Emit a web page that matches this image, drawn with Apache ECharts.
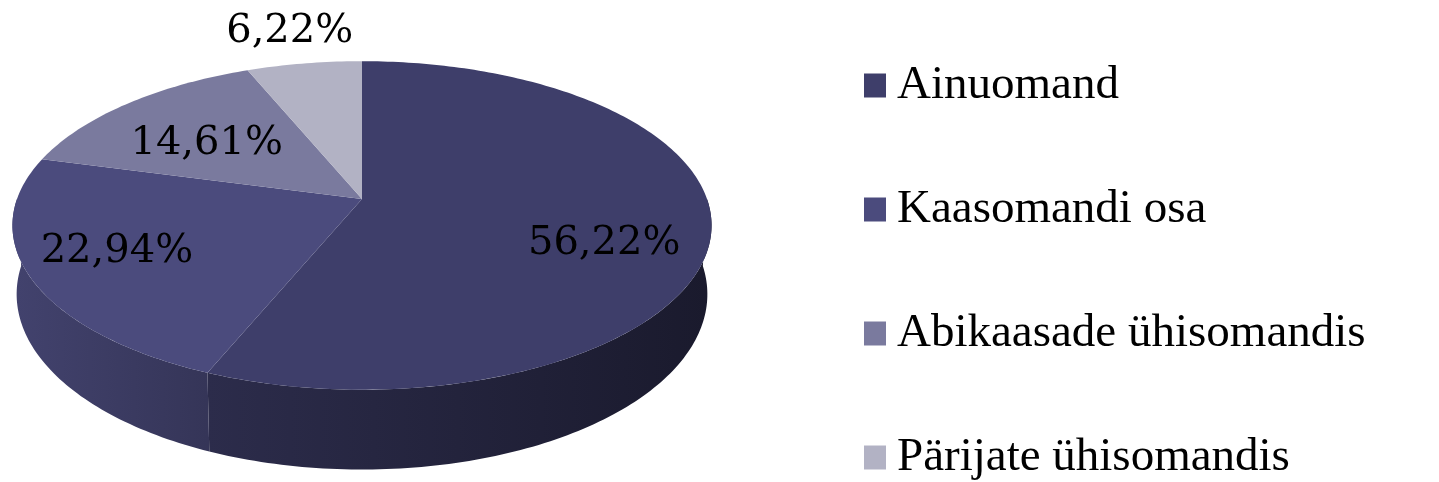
<!DOCTYPE html>
<html>
<head>
<meta charset="utf-8">
<script src="https://cdn.jsdelivr.net/npm/echarts@6/dist/echarts.min.js"></script>
<style>
  html, body { margin: 0; padding: 0; background: #fff; }
  #chart { width: 1439px; height: 482px; }
</style>
</head>
<body>
<div id="chart"></div>
<script>
var categories = ['Ainuomand', 'Kaasomandi osa', 'Abikaasade ühisomandis', 'Pärijate ühisomandis'];
var shares = [56.22, 22.94, 14.61, 6.22];
var labels = ['56,22%', '22,94%', '14,61%', '6,22%'];

var topColors = ['#3e3e6a', '#4b4b7d', '#7a7a9e', '#b2b2c4'];
// where each label sits on the disc (share of radius) and a small y nudge
var labelRadius = [0.7, 0.75, 0.64, 1.3];
var labelShift = [22, -4, 8, 2];

// tilted disc, a little perspective (k) so the far side looks smaller
var pie = { cx: 362, cy: 199, rx: 345, ry: 160, k: 0.161, depth: 67 };

var total = shares.reduce(function (a, b) { return a + b; }, 0);
var starts = [];
var acc = 0;
shares.forEach(function (v) {
  starts.push(acc / total * 360);
  acc += v;
});

function project(deg, r) {
  var t = deg * Math.PI / 180;
  var u = r * Math.sin(t);
  var v = r * Math.cos(t);
  var s = 1 / (1 + pie.k * v);
  return [pie.cx + pie.rx * u * s, pie.cy - pie.ry * v * s, s];
}

function shade(hex, f) {
  var n = parseInt(hex.slice(1), 16);
  var r = Math.round(((n >> 16) & 255) * f);
  var g = Math.round(((n >> 8) & 255) * f);
  var b = Math.round((n & 255) * f);
  return 'rgb(' + r + ',' + g + ',' + b + ')';
}

// side wall gets lighter towards the left
function wallFactor(deg) {
  return 0.45 + (deg - 100) * 0.0025;
}

function renderSlice(idx) {
  return function (params, api) {
    var base = topColors[idx];
    var a0 = starts[idx];
    var a1 = a0 + api.value(0) / total * 360;
    var children = [];

    // visible outer wall: front half only
    var w0 = Math.max(a0, 90);
    var w1 = Math.min(a1, 270);
    if (w1 > w0) {
      var topPts = [];
      var botPts = [];
      var steps = Math.max(8, Math.ceil(w1 - w0));
      for (var i = 0; i <= steps; i++) {
        var d = w0 + (w1 - w0) * i / steps;
        var p = project(d, 1);
        topPts.push([p[0], p[1]]);
        botPts.push([pie.cx + (p[0] - pie.cx) * 0.988, p[1] + pie.depth * p[2]]);
      }
      var xs = topPts[0][0];
      var xe = topPts[topPts.length - 1][0];
      children.push({
        type: 'polygon',
        z2: 1,
        shape: { points: topPts.concat(botPts.reverse()) },
        style: {
          fill: new echarts.graphic.LinearGradient(xs, 0, xe, 0, [
            { offset: 0, color: shade(base, wallFactor(w0)) },
            { offset: 1, color: shade(base, wallFactor(w1)) }
          ], true)
        }
      });
    }

    // top face
    var c = project(0, 0);
    var pts = [[c[0], c[1]]];
    var n = Math.max(4, Math.ceil(a1 - a0));
    for (var j = 0; j <= n; j++) {
      var q = project(a0 + (a1 - a0) * j / n, 1);
      pts.push([q[0], q[1]]);
    }
    children.push({
      type: 'polygon',
      z2: 10,
      shape: { points: pts },
      style: { fill: base }
    });

    // label
    var mid = (a0 + a1) / 2;
    var lp = project(mid, labelRadius[idx]);
    children.push({
      type: 'text',
      z2: 20,
      x: lp[0],
      y: lp[1] + labelShift[idx],
      style: {
        text: labels[idx],
        align: 'center',
        verticalAlign: 'middle',
        font: '40px "DejaVu Serif"',
        fill: '#000'
      }
    });

    return { type: 'group', children: children };
  };
}

var chart = echarts.init(document.getElementById('chart'));
chart.setOption({
  backgroundColor: '#fff',
  animation: false,
  legend: {
    orient: 'vertical',
    left: 864,
    top: 62,
    height: 440,
    padding: 0,
    icon: 'rect',
    itemWidth: 22,
    itemHeight: 24,
    itemGap: 77,
    selectedMode: false,
    data: categories,
    textStyle: {
      fontFamily: 'Liberation Serif',
      fontSize: 47,
      lineHeight: 40,
      color: '#000',
      padding: [0, 0, 0, 6]
    }
  },
  series: categories.map(function (name, i) {
    return {
      type: 'custom',
      name: name,
      coordinateSystem: 'none',
      silent: true,
      itemStyle: { color: topColors[i] },
      data: [[shares[i]]],
      renderItem: renderSlice(i)
    };
  })
});
</script>
</body>
</html>
